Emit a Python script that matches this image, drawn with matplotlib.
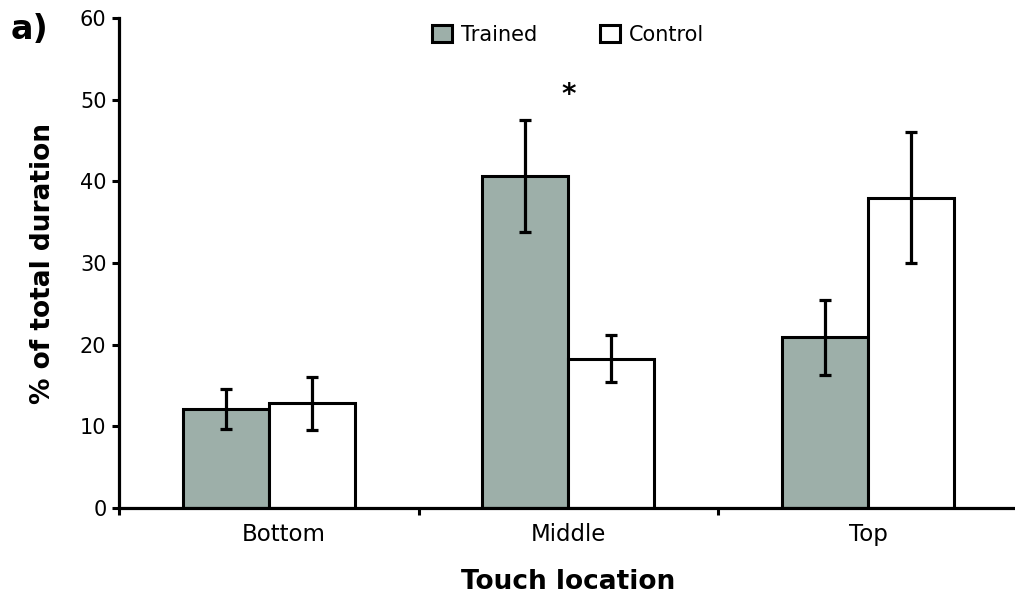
import numpy as np
import matplotlib
matplotlib.use("Agg")
import matplotlib.pyplot as plt
from matplotlib.transforms import ScaledTranslation

# mean % of total duration per touch location, with error (half-range)
locations = ["Bottom", "Middle", "Top"]
trained = [12.1, 40.7, 20.9]
trained_err = [2.45, 6.85, 4.6]
control = [12.8, 18.3, 38.0]
control_err = [3.2, 2.9, 8.0]
yticks = [0, 10, 20, 30, 40, 50, 60]

plt.rcParams["font.family"] = "DejaVu Sans"

fig = plt.figure(figsize=(10.15, 5.99), dpi=100)
ax = fig.add_axes([0.1172, 0.1519, 0.8857, 0.818])

x = np.arange(len(locations))
w = 0.287
err_kw = dict(elinewidth=2.3, capsize=4.5, capthick=2.3, ecolor="black")
ax.bar(x - w / 2, trained, w, yerr=trained_err, color="#9dafa9",
       edgecolor="black", linewidth=2.2, label="Trained", error_kw=err_kw)
ax.bar(x + w / 2, control, w, yerr=control_err, color="white",
       edgecolor="black", linewidth=2.2, label="Control", error_kw=err_kw)

# significance marker above the middle group
ax.text(1, 50.6, "*", ha="center", va="center", fontsize=20, fontweight="bold")

ax.set_xlim(-0.5, 2.5)
ax.set_ylim(0, 60)
ax.set_yticks(yticks)
ax.set_xticks([-0.5, 0.5, 1.5])
ax.set_xticklabels([])
ax.set_xticks(x, minor=True)
ax.set_xticklabels(locations, minor=True)
ax.tick_params(axis="x", which="minor", length=0, labelsize=16.5, pad=11)
ax.tick_params(axis="x", which="major", length=5, width=2.2)
ax.tick_params(axis="y", length=5, width=2.2, labelsize=15, pad=4)

# "Bottom" sits a little right of its group centre
first = ax.xaxis.get_minorticklabels()[0]
first.set_transform(first.get_transform() + ScaledTranslation(0.15, 0, fig.dpi_scale_trans))

for side in ["top", "right"]:
    ax.spines[side].set_visible(False)
for side in ["left", "bottom"]:
    ax.spines[side].set_linewidth(2.3)

ax.set_ylabel("% of total duration", fontsize=19, fontweight="bold", labelpad=17)
ax.set_xlabel("Touch location", fontsize=19, fontweight="bold", labelpad=16)

ax.legend(loc="upper center", bbox_to_anchor=(0.5, 1.025), ncol=2, frameon=False,
          fontsize=15, handlelength=0.95, handleheight=0.95, columnspacing=3.0,
          handletextpad=0.45)

fig.text(0.01, 0.95, "a)", fontsize=24, fontweight="bold", va="center")

fig.savefig("out.png", dpi=100)
